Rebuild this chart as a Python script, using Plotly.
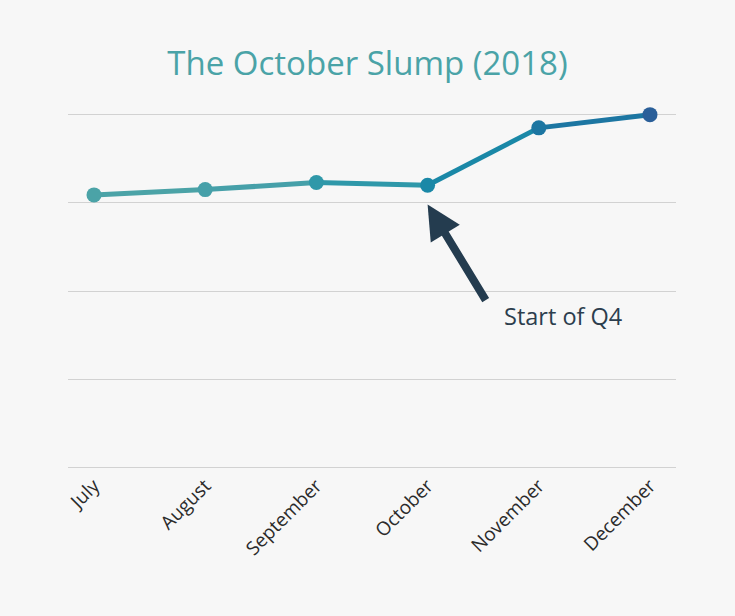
import plotly.graph_objects as go

months = ["July", "August", "September", "October", "November", "December"]
values = [309, 315, 323, 320, 385, 400]
grid_ticks = [0, 100, 200, 300, 400]

point_colors = ["#4ba3a7", "#46a0a9", "#2f98a9", "#1a88a7", "#1c76a2", "#2a5f99"]
FONT = "Open Sans"

fig = go.Figure()

# gradient-like line: one segment per pair of points
for i in range(len(months) - 1):
    fig.add_trace(go.Scatter(
        x=[i, i + 1], y=[values[i], values[i + 1]],
        mode="lines",
        line=dict(color=point_colors[i], width=5),
        hoverinfo="skip", showlegend=False, cliponaxis=False,
    ))

fig.add_trace(go.Scatter(
    x=list(range(len(months))), y=values,
    mode="markers",
    marker=dict(color=point_colors, size=15),
    showlegend=False, cliponaxis=False,
))

fig.add_annotation(
    x=3, y=298, xref="x", yref="y",
    ax=59, ay=97, axref="pixel", ayref="pixel",
    showarrow=True, arrowhead=2, arrowsize=0.85, arrowwidth=8,
    arrowcolor="#243c4f", standoff=0, text="",
)
fig.add_annotation(
    x=4.22, y=172, xref="x", yref="y",
    text="Start of Q4", showarrow=False,
    font=dict(size=23.5, color="#2c3e4e", family=FONT),
)

fig.update_layout(
    width=735, height=616,
    paper_bgcolor="#f7f7f7", plot_bgcolor="#f7f7f7",
    margin=dict(l=68, r=59, t=112, b=146),
    title=dict(text="The October Slump (2018)", x=0.5, xanchor="center",
               y=1 - 63 / 616, yanchor="middle",
               font=dict(size=33, color="#4aa3a7", family=FONT)),
    font=dict(family=FONT),
)
fig.update_xaxes(
    range=[-0.234, 5.234], tickvals=list(range(len(months))), ticktext=months,
    tickangle=-45, showgrid=False, zeroline=False, showline=False,
    tickfont=dict(size=19, color="#2b2b2b", family=FONT), ticks="",
)
fig.update_yaxes(
    range=[-3, 403], tickvals=grid_ticks, showticklabels=False,
    showgrid=True, gridcolor="#d2d2d2", gridwidth=1, zeroline=False, showline=False,
)

fig.write_html(
    "out.html",
    config={"displayModeBar": False},
    post_script="document.body.style.margin='0';document.body.style.background='#f7f7f7';",
)
